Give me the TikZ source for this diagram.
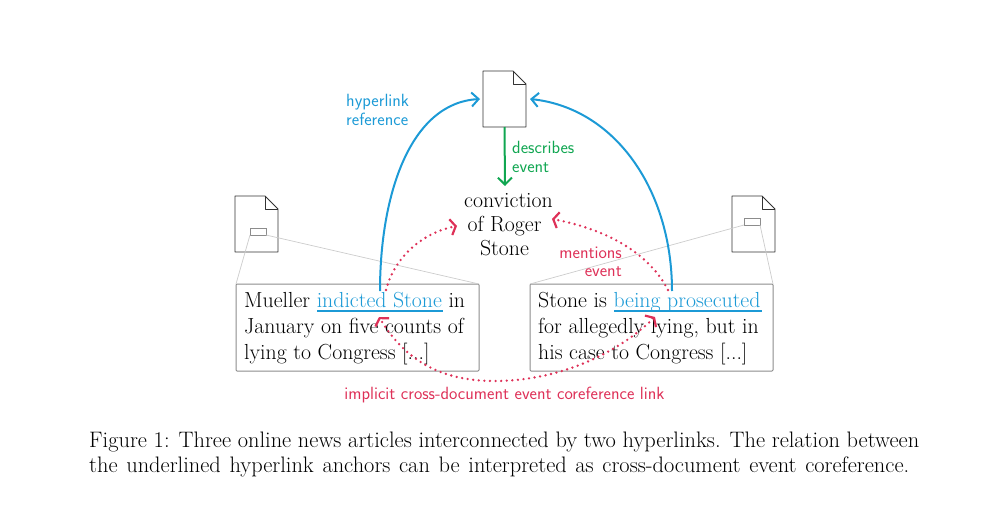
\documentclass[tikz,border=0pt]{standalone}
\usepackage{fontspec}
\setmainfont{Latin Modern Roman}
\setsansfont{Latin Modern Sans}
\usetikzlibrary{arrows.meta,calc}
\definecolor{linkblue}{HTML}{1C9AD6}
\definecolor{evgreen}{HTML}{10A651}
\definecolor{mentred}{HTML}{DE3158}
\definecolor{boxgrey}{HTML}{8C8C8C}
\definecolor{zoomgrey}{HTML}{CCCCCC}
\newcommand{\bodyfs}{\fontsize{21.8}{25.6}\selectfont}
\newcommand{\evfs}{\fontsize{21.8}{24}\selectfont}
\newcommand{\capfs}{\fontsize{22.4}{25.4}\selectfont}
\newcommand{\labfs}{\fontsize{17.7}{18.8}\selectfont\sffamily}
\tikzset{
  x=1pt,y=-1pt,
  docnode/.style={minimum width=43pt,minimum height=56pt,inner sep=0pt,outer sep=0pt},
  docline/.style={draw=black!80,line width=.8pt,line join=round},
  smallbox/.style={draw=boxgrey,line width=.7pt,minimum width=16pt,minimum height=7pt,inner sep=0pt,outer sep=0pt},
  textbox/.style={draw=boxgrey,line width=1pt,rounded corners=1pt,minimum width=243pt,minimum height=87pt,inner sep=0pt,outer sep=0pt},
  boxtext/.style={font=\bodyfs,align=left,anchor=north west,inner sep=0pt},
  zoomline/.style={draw=zoomgrey,line width=.7pt},
  hyper/.style={draw=linkblue,line width=2pt,-{Straight Barb[length=7pt,width=14pt,line width=2pt]}},
  under/.style={draw=linkblue,line width=1.3pt},
  describes/.style={draw=evgreen,line width=2pt,-{Straight Barb[length=7pt,width=14pt,line width=2pt]}},
  mention/.style={draw=mentred,line width=2.6pt,line cap=round,dash pattern=on 0pt off 5.6pt,>={Straight Barb[length=5pt,width=16pt,line width=2.2pt,line cap=butt]},->},
  coref/.style={mention,<->},
  bluelab/.style={text=linkblue,font=\labfs,align=left,inner sep=0pt},
  greenlab/.style={text=evgreen,font=\labfs,align=left,inner sep=0pt},
  redlab/.style={text=mentred,font=\labfs,inner sep=0pt},
}
\newcommand{\docshape}[1]{%
  \fill[white] (#1.north west) -- ($(#1.north east)+(-13,0)$) -- ($(#1.north east)+(0,13)$) -- (#1.south east) -- (#1.south west) -- cycle;
  \draw[docline] (#1.north west) -- ($(#1.north east)+(-13,0)$) -- ($(#1.north east)+(0,13)$) -- (#1.south east) -- (#1.south west) -- cycle;
  \draw[docline] ($(#1.north east)+(-13,0)$) -- ($(#1.north east)+(-13,13)$) -- ($(#1.north east)+(0,13)$);
}
\begin{document}
\begin{tikzpicture}
\useasboundingbox (0,0) rectangle (982,511);
% documents
\node[docnode] (top) at (504.5,99) {};
\node[docnode] (left) at (256.5,224) {};
\node[docnode] (right) at (753.5,224) {};
\docshape{top}\docshape{left}\docshape{right}
\node[smallbox] (lsmall) at (258,231.5) {};
\node[smallbox] (rsmall) at (752,221.5) {};
% text boxes
\node[textbox] (lbox) at (357.5,327.5) {};
\node[textbox] (rbox) at (651.5,327.5) {};
\draw[zoomline] (lsmall.south west) -- (lbox.north west);
\draw[zoomline] (lsmall.south east) -- (lbox.north east);
\draw[zoomline] (rsmall.south west) -- (rbox.north west);
\draw[zoomline] (rsmall.south east) -- (rbox.north east);
\node[boxtext] (ltext) at (244,292.5) {Mueller \textcolor{linkblue}{indicted Stone} in\\January on five counts of\\lying to Congress [...]};
\node[boxtext] (rtext) at (538,292.5) {Stone is \textcolor{linkblue}{being prosecuted}\\for allegedly lying, but in\\his case to Congress [...]};
% underlines
\coordinate (lu1) at (317,311); \coordinate (lu2) at (443,311);
\coordinate (ru1) at (614,311); \coordinate (ru2) at (762,311);
\draw[under] (lu1) -- (lu2);
\draw[under] (ru1) -- (ru2);
% event
\node[font=\evfs,align=center,inner sep=0pt] (event) at (504.5,225) {\hspace*{8pt}conviction\\of Roger\\Stone};
% connectors
\coordinate (lstart) at (380,291);
\coordinate (rstart) at (672,291);
\coordinate (topl) at (480,99);
\coordinate (topr) at (530,99);
\draw[hyper] (lstart) .. controls (380,195) and (410,103) .. (topl);
\draw[hyper] (rstart) .. controls (672,190) and (615,108) .. (topr);
\draw[describes] (top.south) -- (505,186);
\coordinate (evl) at (457,226);
\coordinate (evr) at (552,219);
\coordinate (m1) at (386,290);
\coordinate (m2) at (668,290);
\coordinate (c1) at (379,317);
\coordinate (c2) at (655,317);
\draw[mention] (m1) .. controls (395,255) and (425,232) .. (evl);
\draw[mention] (m2) .. controls (650,255) and (610,230) .. (evr);
\draw[coref] (c2) .. controls (610,360) and (550,381) .. (495,381) .. controls (440,381) and (405,360) .. (c1);
% labels
\node[bluelab,anchor=north west] (hl) at (346,94.5) {hyperlink\\reference};
\node[greenlab,anchor=north west] (dl) at (512,141.5) {describes\\event};
\node[redlab,align=right,anchor=north east] (ml) at (622,246.5) {mentions\\event};
\node[redlab] (il) at (504.5,395) {implicit cross-document event coreference link};
% caption
\node[font=\capfs,align=left,anchor=north west,inner sep=0pt] (cap) at (89,431.5) {\makebox[830pt][s]{Figure 1: Three online news articles interconnected by two hyperlinks. The relation between}\\\makebox[820pt][s]{the underlined hyperlink anchors can be interpreted as cross-document event coreference.}};
\end{tikzpicture}
\end{document}
